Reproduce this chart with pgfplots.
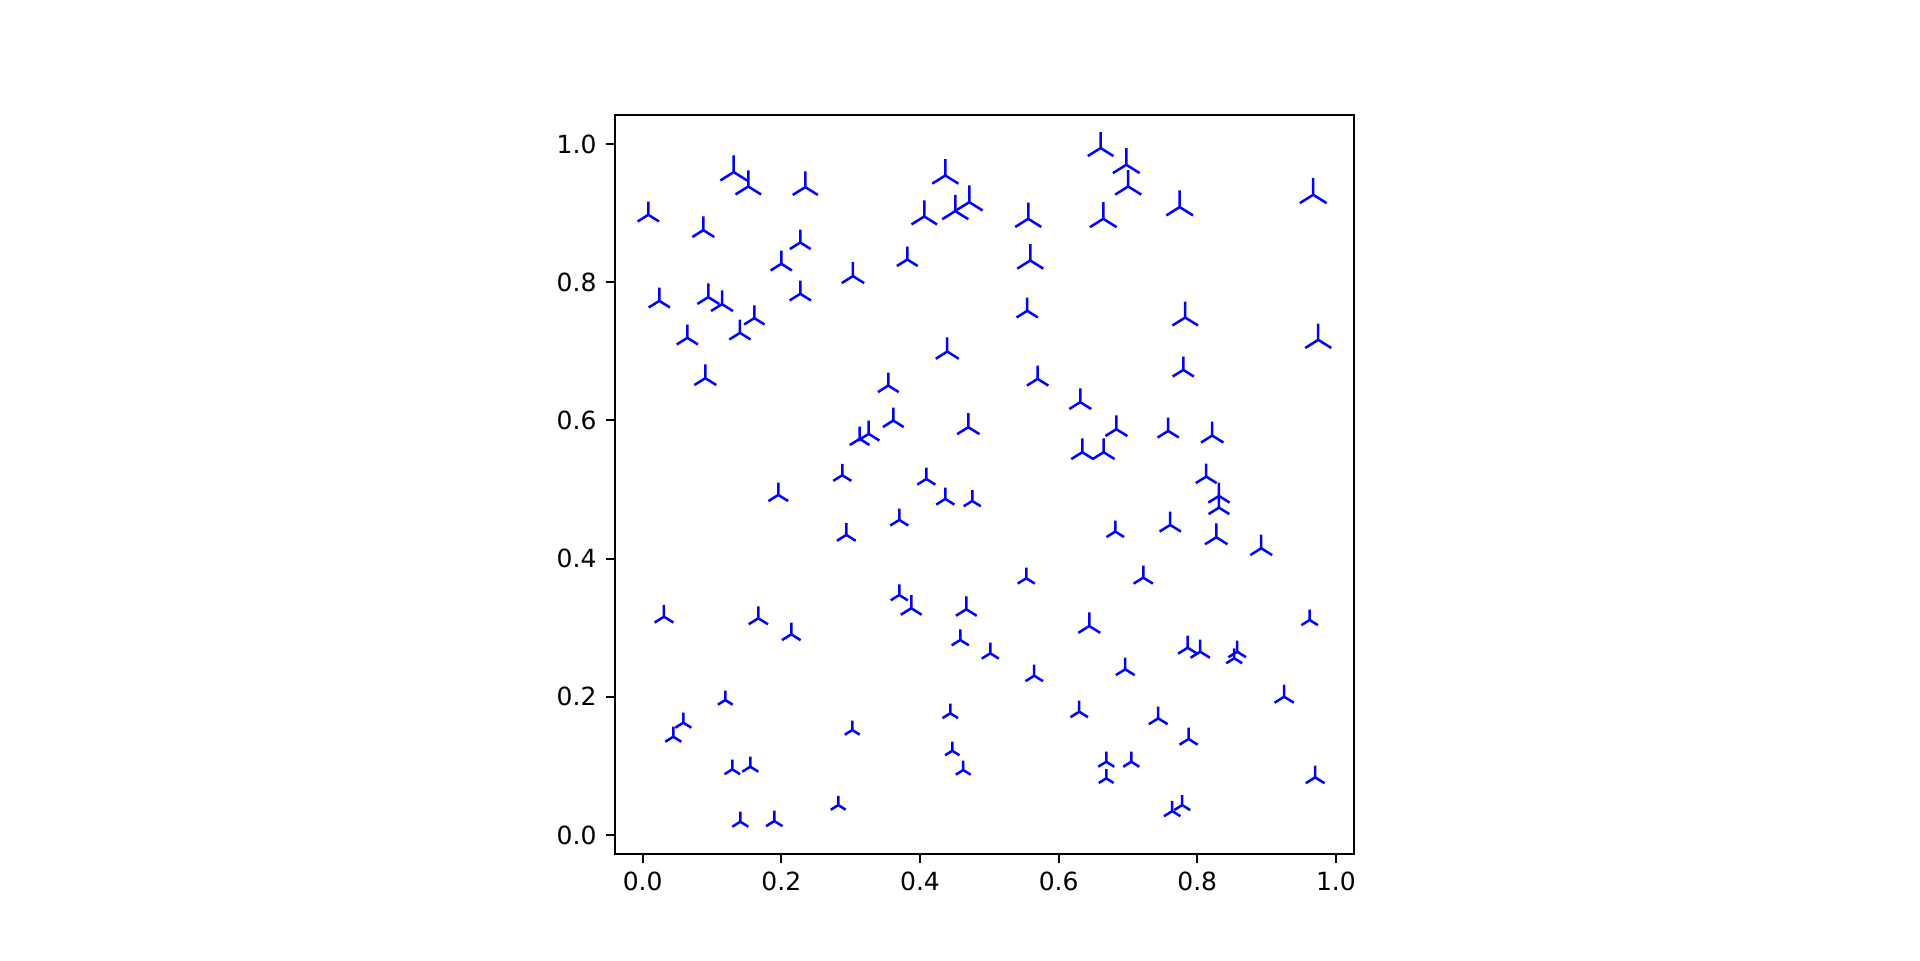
\documentclass[border=0pt]{standalone}
\usepackage{pgfplots}
\pgfplotsset{compat=1.18}
\usepackage{pgfplotstable}
\usepackage{fontspec}
\setmainfont{DejaVu Sans}

% tri_up marker: arm up, two arms down-left / down-right
\pgfdeclareplotmark{triup}{%
  \pgfpathmoveto{\pgfpoint{0pt}{0pt}}\pgfpathlineto{\pgfpoint{0pt}{\pgfplotmarksize}}%
  \pgfpathmoveto{\pgfpoint{0pt}{0pt}}\pgfpathlineto{\pgfpoint{0.8\pgfplotmarksize}{-0.5\pgfplotmarksize}}%
  \pgfpathmoveto{\pgfpoint{0pt}{0pt}}\pgfpathlineto{\pgfpoint{-0.8\pgfplotmarksize}{-0.5\pgfplotmarksize}}%
  \pgfusepathqstroke}

% x y a (a = arm length in px of the reference)
\pgfplotstableread{
x y a
0.1313 0.9593 16.7
0.1523 0.9385 16.0
0.2346 0.9376 15.7
0.0081 0.8975 13.3
0.0874 0.8753 13.7
0.2273 0.8574 13.0
0.1999 0.8266 13.3
0.3033 0.8088 14.0
0.2273 0.7832 13.3
0.0240 0.7730 13.3
0.0946 0.7784 13.7
0.1144 0.7682 13.7
0.1610 0.7480 12.7
0.1403 0.7267 13.3
0.0644 0.7195 13.3
0.0903 0.6611 13.7
0.6606 0.9941 16.0
0.4365 0.9544 16.3
0.4711 0.9158 16.7
0.4509 0.9029 16.3
0.4062 0.8951 16.0
0.5562 0.8917 16.3
0.6644 0.8917 16.7
0.3817 0.8328 13.0
0.5591 0.8314 16.3
0.5547 0.7586 13.3
0.4393 0.6996 14.3
0.6976 0.9699 16.7
0.7004 0.9385 16.3
0.7746 0.9087 16.7
0.9673 0.9265 16.7
0.7826 0.7489 16.0
0.9745 0.7166 16.3
0.7798 0.6731 13.3
0.2879 0.5207 11.3
0.1956 0.4922 12.3
0.2937 0.4343 11.7
0.0307 0.3160 11.7
0.1668 0.3137 12.0
0.3543 0.6504 13.0
0.5697 0.6601 13.3
0.6312 0.6264 13.7
0.3615 0.5998 13.0
0.4697 0.5902 14.0
0.3260 0.5805 13.3
0.3130 0.5733 12.3
0.6341 0.5540 13.7
0.6649 0.5540 13.7
0.4091 0.5153 11.3
0.4365 0.4864 11.3
0.4754 0.4835 10.7
0.3701 0.4560 11.3
0.5533 0.3716 10.7
0.3701 0.3474 10.7
0.6833 0.5873 13.7
0.7581 0.5848 13.3
0.8216 0.5781 14.0
0.8129 0.5187 13.0
0.8313 0.4907 13.3
0.8313 0.4738 13.0
0.6817 0.4391 11.0
0.7610 0.4488 13.3
0.8274 0.4309 14.0
0.8923 0.4150 13.7
0.7221 0.3725 12.0
0.2143 0.2905 11.7
0.1191 0.1954 9.3
0.0586 0.1626 10.0
0.0441 0.1423 10.0
0.3023 0.1520 9.3
0.1292 0.0951 9.7
0.1552 0.0989 10.0
0.2821 0.0434 9.3
0.1408 0.0193 10.0
0.1898 0.0203 10.3
0.3874 0.3282 13.0
0.4668 0.3267 13.0
0.6442 0.3025 13.7
0.4581 0.2823 10.7
0.5014 0.2630 10.7
0.5648 0.2306 11.0
0.4437 0.1762 9.7
0.6297 0.1785 11.0
0.4466 0.1220 9.0
0.4624 0.0941 9.3
0.9621 0.3112 10.3
0.7861 0.2711 12.0
0.8043 0.2653 12.0
0.8576 0.2653 11.0
0.8533 0.2558 10.0
0.6961 0.2399 11.7
0.9254 0.2002 12.0
0.7437 0.1689 11.7
0.7875 0.1390 11.3
0.6687 0.1061 10.0
0.7048 0.1061 10.0
0.6687 0.0821 9.3
0.9701 0.0835 11.7
0.7639 0.0347 10.3
0.7783 0.0434 10.0
}\pts

\begin{document}
\begin{tikzpicture}
\path[use as bounding box] (0,0) rectangle (768pt,384pt);
\begin{axis}[
    at={(245.8pt,42.24pt)}, anchor=south west,
    scale only axis, width=295.6pt, height=295.7pt,
    xmin=-0.0407, xmax=1.0254, ymin=-0.028, ymax=1.0417,
    xtick={0,0.2,0.4,0.6,0.8,1}, ytick={0,0.2,0.4,0.6,0.8,1},
    xticklabels={0.0,0.2,0.4,0.6,0.8,1.0},
    yticklabels={0.0,0.2,0.4,0.6,0.8,1.0},
    tick align=outside, tick pos=left,
    major tick length=3.5pt,
    every tick/.style={black, line width=0.8pt},
    axis line style={line width=0.8pt},
    tick label style={font=\fontsize{10pt}{12pt}\selectfont, inner sep=0pt},
    ticklabel shift=3.5pt,
]
\addplot[scatter, only marks, mark=triup,
    scatter/use mapped color={draw=blue, fill=blue},
    mark options={line width=1pt, solid},
    visualization depends on={0.4*\thisrow{a} \as \msize},
    scatter/@pre marker code/.append style={/tikz/mark size=\msize pt}]
    table[x=x, y=y] {\pts};
\end{axis}
\end{tikzpicture}
\end{document}
